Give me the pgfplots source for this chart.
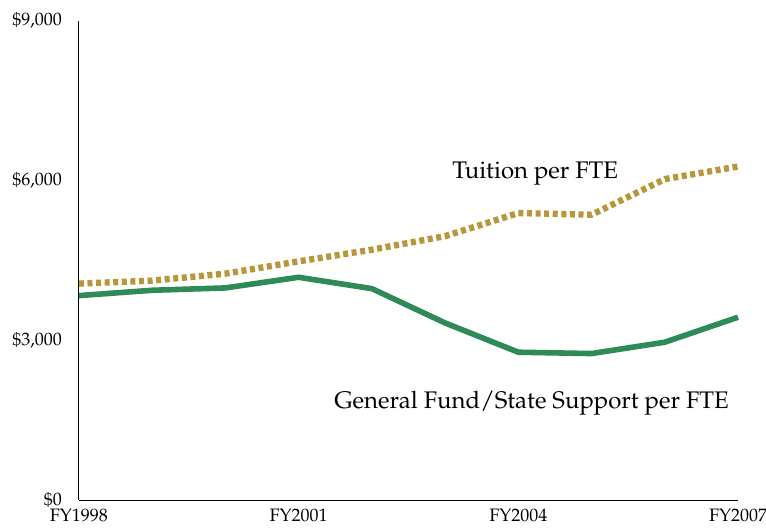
\documentclass[border=0pt]{standalone}
\usepackage[T1]{fontenc}
\usepackage{mathpazo}
\usepackage{pgfplots}
\pgfplotsset{compat=1.18}
\definecolor{fundgreen}{RGB}{46,139,87}
\definecolor{tuitiongold}{RGB}{184,150,58}

\begin{document}
\begin{tikzpicture}
\begin{axis}[
    scale only axis,
    width=330pt,
    height=240pt,
    xmin=1998, xmax=2007,
    ymin=0, ymax=9000,
    axis x line=bottom,
    axis y line=left,
    axis line style={-, black, line width=0.6pt},
    xtick={1998,2001,2004,2007},
    xticklabels={FY1998,FY2001,FY2004,FY2007},
    ytick={0,3000,6000,9000},
    yticklabels={{\$0},{\$3,000},{\$6,000},{\$9,000}},
    major tick length=0pt,
    tick label style={font=\fontsize{9}{11}\selectfont},
    xticklabel style={yshift=-1pt},
    yticklabel style={xshift=-5pt},
    clip=false,
]
% tuition per FTE
\addplot[tuitiongold, line width=3.2pt, dash pattern=on 2.5pt off 1.8pt] coordinates {
    (1998,4069) (1999,4125) (2000,4256) (2001,4487) (2002,4706)
    (2003,4960) (2004,5394) (2005,5362) (2006,6031) (2007,6268)
};
% general fund / state support per FTE
\addplot[fundgreen, line width=2.8pt] coordinates {
    (1998,3844) (1999,3944) (2000,3988) (2001,4188) (2002,3975)
    (2003,3331) (2004,2781) (2005,2756) (2006,2969) (2007,3438)
};
\node[font=\fontsize{12}{14}\selectfont] at (axis cs:2004.23,6131) {Tuition per FTE};
\node[font=\fontsize{12}{14}\selectfont] at (axis cs:2004.18,1819) {General Fund/State Support per FTE};
\end{axis}
\pgfresetboundingbox
\path (current axis.south west) ++(-39.5pt,-15pt) coordinate (bl);
\path (current axis.north east) ++(14pt,10.5pt) coordinate (tr);
\path[use as bounding box] (bl) rectangle (tr);
\end{tikzpicture}
\end{document}
